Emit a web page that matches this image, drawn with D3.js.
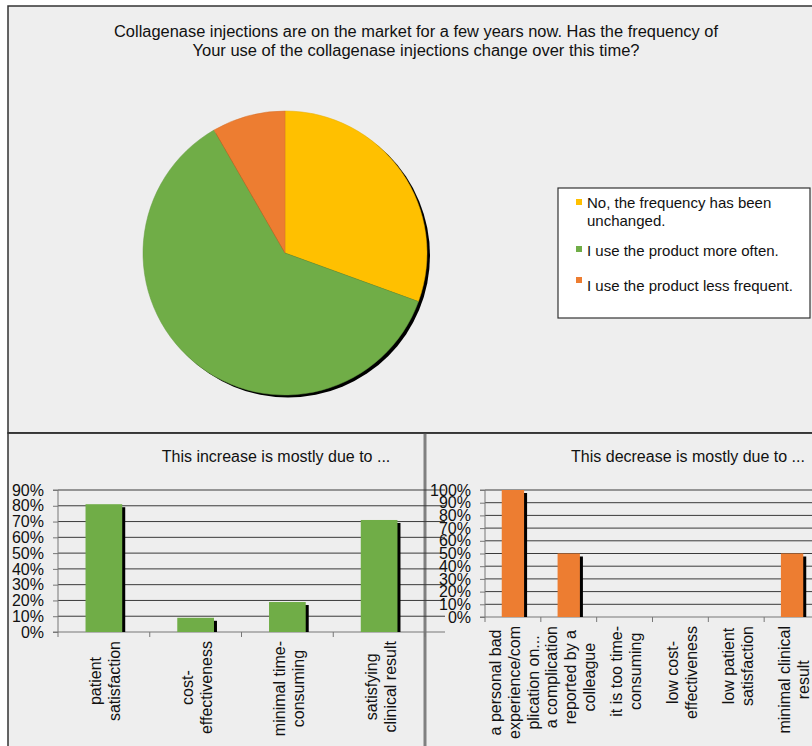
<!DOCTYPE html>
<html>
<head>
<meta charset="utf-8">
<script src="https://cdn.jsdelivr.net/npm/d3@7"></script>
<style>
  body { margin: 0; background: #ffffff; }
  svg { display: block; font-family: "Liberation Sans", Arial, sans-serif; }
</style>
</head>
<body>
<svg id="chart" width="812" height="746"></svg>
<script>
// ---------- DATA ----------
const titleLines = [
  "Collagenase injections are on the market for a few years now. Has the frequency of",
  "Your use of the collagenase injections change over this time?"
];
const pieCategories = [
  "No, the frequency has been unchanged.",
  "I use the product more often.",
  "I use the product less frequent."
];
const pieValues = [11, 22, 3];
const legendLines = [
  ["No, the frequency has been", "unchanged."],
  ["I use the product more often."],
  ["I use the product less frequent."]
];

const increaseTitle = "This increase is mostly due to ...";
const increaseCategories = [
  ["patient", "satisfaction"],
  ["cost-", "effectiveness"],
  ["minimal time-", "consuming"],
  ["satisfying", "clinical result"]
];
const increaseValues = [0.81, 0.09, 0.19, 0.71];
const increaseTicks = [0, 0.1, 0.2, 0.3, 0.4, 0.5, 0.6, 0.7, 0.8, 0.9];

const decreaseTitle = "This decrease is mostly due to ...";
const decreaseCategories = [
  ["a personal bad", "experience/com", "plication on..."],
  ["a complication", "reported by a", "colleague"],
  ["it is too time-", "consuming"],
  ["low cost-", "effectiveness"],
  ["low patient", "satisfaction"],
  ["minimal clinical", "result"]
];
const decreaseValues = [1.0, 0.5, 0, 0, 0, 0.5];
const decreaseTicks = [0, 0.1, 0.2, 0.3, 0.4, 0.5, 0.6, 0.7, 0.8, 0.9, 1.0];

const colors = ["#FFC000", "#70AD47", "#ED7D31"];

// ---------- DRAW ----------
const svg = d3.select("#chart");
const panelFill = "#eeeeee";

// panels
svg.append("rect").attr("x", 8).attr("y", 6).attr("width", 830).attr("height", 427)
  .attr("fill", panelFill).attr("stroke", "#333").attr("stroke-width", 1.5);
svg.append("rect").attr("x", 8).attr("y", 433).attr("width", 417).attr("height", 330)
  .attr("fill", panelFill).attr("stroke", "#333").attr("stroke-width", 1.5);
svg.append("rect").attr("x", 425).attr("y", 433).attr("width", 420).attr("height", 330)
  .attr("fill", panelFill).attr("stroke", "#333").attr("stroke-width", 1.5);
svg.append("line").attr("x1", 425).attr("x2", 425).attr("y1", 433).attr("y2", 746)
  .attr("stroke", "#808080").attr("stroke-width", 3);
svg.append("line").attr("x1", 8).attr("x2", 812).attr("y1", 433).attr("y2", 433)
  .attr("stroke", "#333").attr("stroke-width", 1.5);

// title
const tl = [604, 447];
titleLines.forEach((t, i) => {
  svg.append("text").attr("x", 416).attr("y", 37 + i * 19)
    .attr("text-anchor", "middle").attr("font-size", 16).attr("fill", "#111")
    .attr("textLength", tl[i]).attr("lengthAdjust", "spacingAndGlyphs")
    .text(t);
});

// pie
const cx = 285, cy = 253, R = 142;
const pie = d3.pie().sort(null).value(d => d)(pieValues);
const arc = d3.arc().innerRadius(0).outerRadius(R);
svg.append("circle").attr("cx", cx + 3).attr("cy", cy + 2.5).attr("r", R).attr("fill", "#000");
const pg = svg.append("g").attr("transform", `translate(${cx},${cy})`);
pg.selectAll("path").data(pie).join("path")
  .attr("d", arc).attr("fill", (d, i) => colors[i])
  .attr("stroke", (d, i) => d3.color(colors[i]).darker(0.3)).attr("stroke-width", 0.5);

// legend
svg.append("rect").attr("x", 558).attr("y", 188).attr("width", 252).attr("height", 130)
  .attr("fill", "#fff").attr("stroke", "#333").attr("stroke-width", 1.2);
const legY = [208, 256, 291];
const markY = [199, 246, 277];
legendLines.forEach((lines, i) => {
  svg.append("rect").attr("x", 576).attr("y", markY[i]).attr("width", 6).attr("height", 6)
    .attr("fill", colors[i]);
  lines.forEach((ln, j) => {
    svg.append("text").attr("x", 587).attr("y", legY[i] + j * 18)
      .attr("font-size", 15).attr("fill", "#111").text(ln);
  });
});

// bar chart helper
function barChart(opt) {
  const g = svg.append("g");
  const x = d3.scaleBand().domain(d3.range(opt.values.length))
    .range([opt.x0, opt.x1]).paddingInner(0.6).paddingOuter(0.3);
  const y = d3.scaleLinear().domain([0, opt.max]).range([opt.y0, opt.y1]);
  const step = x.step();

  // gridlines
  g.selectAll("line.grid").data(opt.ticks.slice(1)).join("line")
    .attr("x1", opt.x0).attr("x2", opt.x1 + 20)
    .attr("y1", d => y(d)).attr("y2", d => y(d))
    .attr("stroke", "#3a3a3a").attr("stroke-width", 1);

  // y axis
  const yAxis = d3.axisLeft(y).tickValues(opt.ticks).tickFormat(d3.format(".0%"))
    .tickSize(5).tickPadding(9);
  const ya = g.append("g").attr("transform", `translate(${opt.x0},0)`).call(yAxis);
  ya.select(".domain").attr("stroke", "#777").attr("d", `M-5,${opt.y0}H0V${opt.y1}H-5`);
  ya.selectAll(".tick line").attr("stroke", "#777");
  ya.selectAll(".tick text").attr("font-size", 16).attr("fill", "#111")
    .attr("font-family", "Liberation Sans, Arial, sans-serif");

  // x axis line & ticks at band boundaries
  g.append("line").attr("x1", opt.x0).attr("x2", opt.x1 + 20)
    .attr("y1", opt.y0).attr("y2", opt.y0).attr("stroke", "#777").attr("stroke-width", 1.2);
  const bounds = d3.range(opt.values.length + 1).map(i => x(i) !== undefined ? x(i) - step * 0.3 : opt.x0 + step * i);
  g.selectAll("line.xt").data(d3.range(opt.values.length + 1)).join("line")
    .attr("x1", i => opt.x0 + i * step).attr("x2", i => opt.x0 + i * step)
    .attr("y1", opt.y0).attr("y2", opt.y0 + 5).attr("stroke", "#777");

  // bars with shadow
  const bw = x.bandwidth();
  g.selectAll("rect.shadow").data(opt.values).join("rect")
    .attr("x", (d, i) => x(i) + 3).attr("y", d => y(d) + 3)
    .attr("width", bw).attr("height", d => Math.max(0, opt.y0 - y(d) - 3))
    .attr("fill", "#000");
  g.selectAll("rect.bar").data(opt.values).join("rect")
    .attr("x", (d, i) => x(i)).attr("y", d => y(d))
    .attr("width", bw).attr("height", d => opt.y0 - y(d))
    .attr("fill", opt.color);

  // category labels (rotated)
  const L = 19;
  opt.categories.forEach((lines, i) => {
    const cxb = x(i) + bw / 2 + 1.5;
    const lg = g.append("g").attr("transform", `translate(${cxb},${opt.y0 + 9}) rotate(-90)`);
    const texts = lines.map((ln, j) => lg.append("text")
      .attr("font-size", 16).attr("fill", "#111")
      .attr("y", (j - (lines.length - 1) / 2) * L + 5.6)
      .text(ln));
    const maxW = d3.max(texts, t => t.node().getComputedTextLength());
    texts.forEach(t => t.attr("x", -maxW / 2).attr("text-anchor", "middle"));
  });

  // title
  svg.append("text").attr("x", opt.titleX).attr("y", 462).attr("text-anchor", "middle")
    .attr("font-size", 16).attr("fill", "#111").text(opt.title);
}

barChart({
  values: increaseValues, categories: increaseCategories, ticks: increaseTicks, max: 0.9,
  x0: 58, x1: 425, y0: 632, y1: 490, color: "#70AD47",
  title: increaseTitle, titleX: 276
});
barChart({
  values: decreaseValues, categories: decreaseCategories, ticks: decreaseTicks, max: 1.0,
  x0: 485, x1: 820, y0: 617, y1: 490, color: "#ED7D31",
  title: decreaseTitle, titleX: 688
});
</script>
</body>
</html>
